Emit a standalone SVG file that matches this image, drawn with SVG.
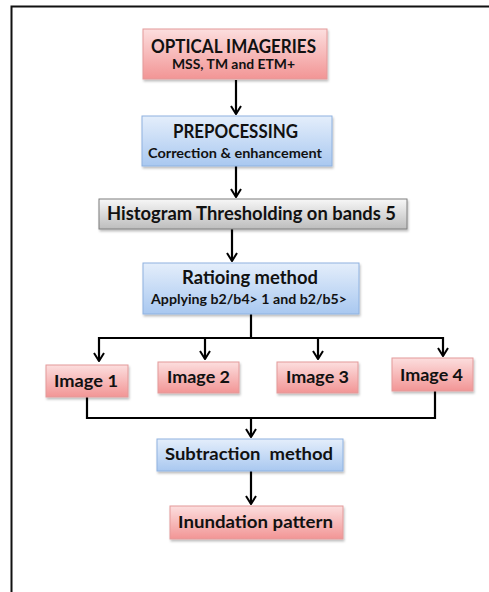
<svg xmlns="http://www.w3.org/2000/svg" width="489" height="592" viewBox="0 0 489 592">
<style>
.t{font-family:Lato,"Open Sans","Liberation Sans",sans-serif;font-weight:bold;fill:#111;text-anchor:middle}
.pink{fill:url(#gp);stroke:#e39a9a;stroke-width:1}
.blue{fill:url(#gb);stroke:#8fb2e0;stroke-width:1}
.gray{fill:url(#gg);stroke:#7f7f7f;stroke-width:1}
.c{fill:none;stroke:#000;stroke-width:2.2}
.a{marker-end:url(#ah)}
</style>
<defs>
<linearGradient id="gp" x1="0" y1="0" x2="0" y2="1"><stop offset="0" stop-color="#fcdede"/><stop offset="1" stop-color="#f29595"/></linearGradient>
<linearGradient id="gb" x1="0" y1="0" x2="0" y2="1"><stop offset="0" stop-color="#e4eefb"/><stop offset="1" stop-color="#a9c8f0"/></linearGradient>
<linearGradient id="gg" x1="0" y1="0" x2="0" y2="1"><stop offset="0" stop-color="#f7f7f7"/><stop offset="1" stop-color="#bdbdbd"/></linearGradient>
<filter id="sh" x="-10%" y="-20%" width="120%" height="150%"><feDropShadow dx="1" dy="2" stdDeviation="1.2" flood-color="#000" flood-opacity="0.25"/></filter>
<marker id="ah" viewBox="0 0 10 12" refX="9" refY="6" markerWidth="10" markerHeight="12" markerUnits="userSpaceOnUse" orient="auto">
<path d="M1,1 L9,6 L1,11" fill="none" stroke="#000" stroke-width="2"/>
</marker>
</defs>
<rect width="489" height="592" fill="#fff"/>
<path d="M11.5,592 V6.5 H489" fill="none" stroke="#111" stroke-width="2"/>
<g id="connectors">
<path class="c a" d="M236,80 V114"/>
<path class="c a" d="M236,166 V197"/>
<path class="c a" d="M232,229 V261"/>
<path class="c" d="M251,314 V338 M98,338 H444"/>
<path class="c a" d="M99,337 V361"/>
<path class="c a" d="M205,337 V359"/>
<path class="c a" d="M318,337 V359"/>
<path class="c a" d="M443,337 V356"/>
<path class="c" d="M87,397 V418 H435 V391"/>
<path class="c a" d="M251,418 V437"/>
<path class="c a" d="M251,471 V504"/>
</g>
<g id="n1"><rect class="pink" filter="url(#sh)" x="143" y="29" width="184" height="50"/>
<text class="t" x="233.5" y="53" font-size="18" textLength="165" lengthAdjust="spacingAndGlyphs">OPTICAL IMAGERIES</text>
<text class="t" x="233.5" y="69" font-size="13" textLength="123" lengthAdjust="spacingAndGlyphs">MSS, TM and ETM+</text></g>
<g id="n2"><rect class="blue" filter="url(#sh)" x="142" y="116" width="190" height="50"/>
<text class="t" x="235.5" y="138" font-size="18" textLength="125" lengthAdjust="spacingAndGlyphs">PREPOCESSING</text>
<text class="t" x="235" y="158" font-size="14" textLength="174" lengthAdjust="spacingAndGlyphs">Correction &amp; enhancement</text></g>
<g id="n3"><rect class="gray" filter="url(#sh)" x="99" y="199" width="308" height="30"/>
<text class="t" x="251.5" y="220" font-size="18.5" textLength="289" lengthAdjust="spacingAndGlyphs">Histogram Thresholding on bands 5</text></g>
<g id="n4"><rect class="blue" filter="url(#sh)" x="143" y="263" width="216" height="51"/>
<text class="t" x="250" y="284" font-size="18" textLength="136" lengthAdjust="spacingAndGlyphs">Ratioing method</text>
<text class="t" x="249" y="304" font-size="13.5" textLength="196" lengthAdjust="spacingAndGlyphs">Applying b2/b4&gt; 1 and b2/b5&gt;</text></g>
<g id="n5"><rect class="pink" filter="url(#sh)" x="46" y="365" width="82" height="32"/>
<text class="t" x="86" y="387" font-size="17.5" textLength="64" lengthAdjust="spacingAndGlyphs">Image 1</text></g>
<g id="n6"><rect class="pink" filter="url(#sh)" x="158" y="362" width="81" height="31"/>
<text class="t" x="198.5" y="383" font-size="17.5" textLength="63" lengthAdjust="spacingAndGlyphs">Image 2</text></g>
<g id="n7"><rect class="pink" filter="url(#sh)" x="277" y="362" width="81" height="31"/>
<text class="t" x="317.5" y="383" font-size="17.5" textLength="63" lengthAdjust="spacingAndGlyphs">Image 3</text></g>
<g id="n8"><rect class="pink" filter="url(#sh)" x="392" y="358" width="81" height="33"/>
<text class="t" x="431.5" y="381" font-size="17.5" textLength="63" lengthAdjust="spacingAndGlyphs">Image 4</text></g>
<g id="n9"><rect class="blue" filter="url(#sh)" x="157" y="439" width="186" height="32"/>
<text class="t" x="249" y="460" font-size="17.5" textLength="168" lengthAdjust="spacingAndGlyphs" xml:space="preserve">Subtraction  method</text></g>
<g id="n10"><rect class="pink" filter="url(#sh)" x="170" y="506" width="173" height="33"/>
<text class="t" x="255.5" y="528" font-size="17.5" textLength="155" lengthAdjust="spacingAndGlyphs">Inundation pattern</text></g>
</svg>
